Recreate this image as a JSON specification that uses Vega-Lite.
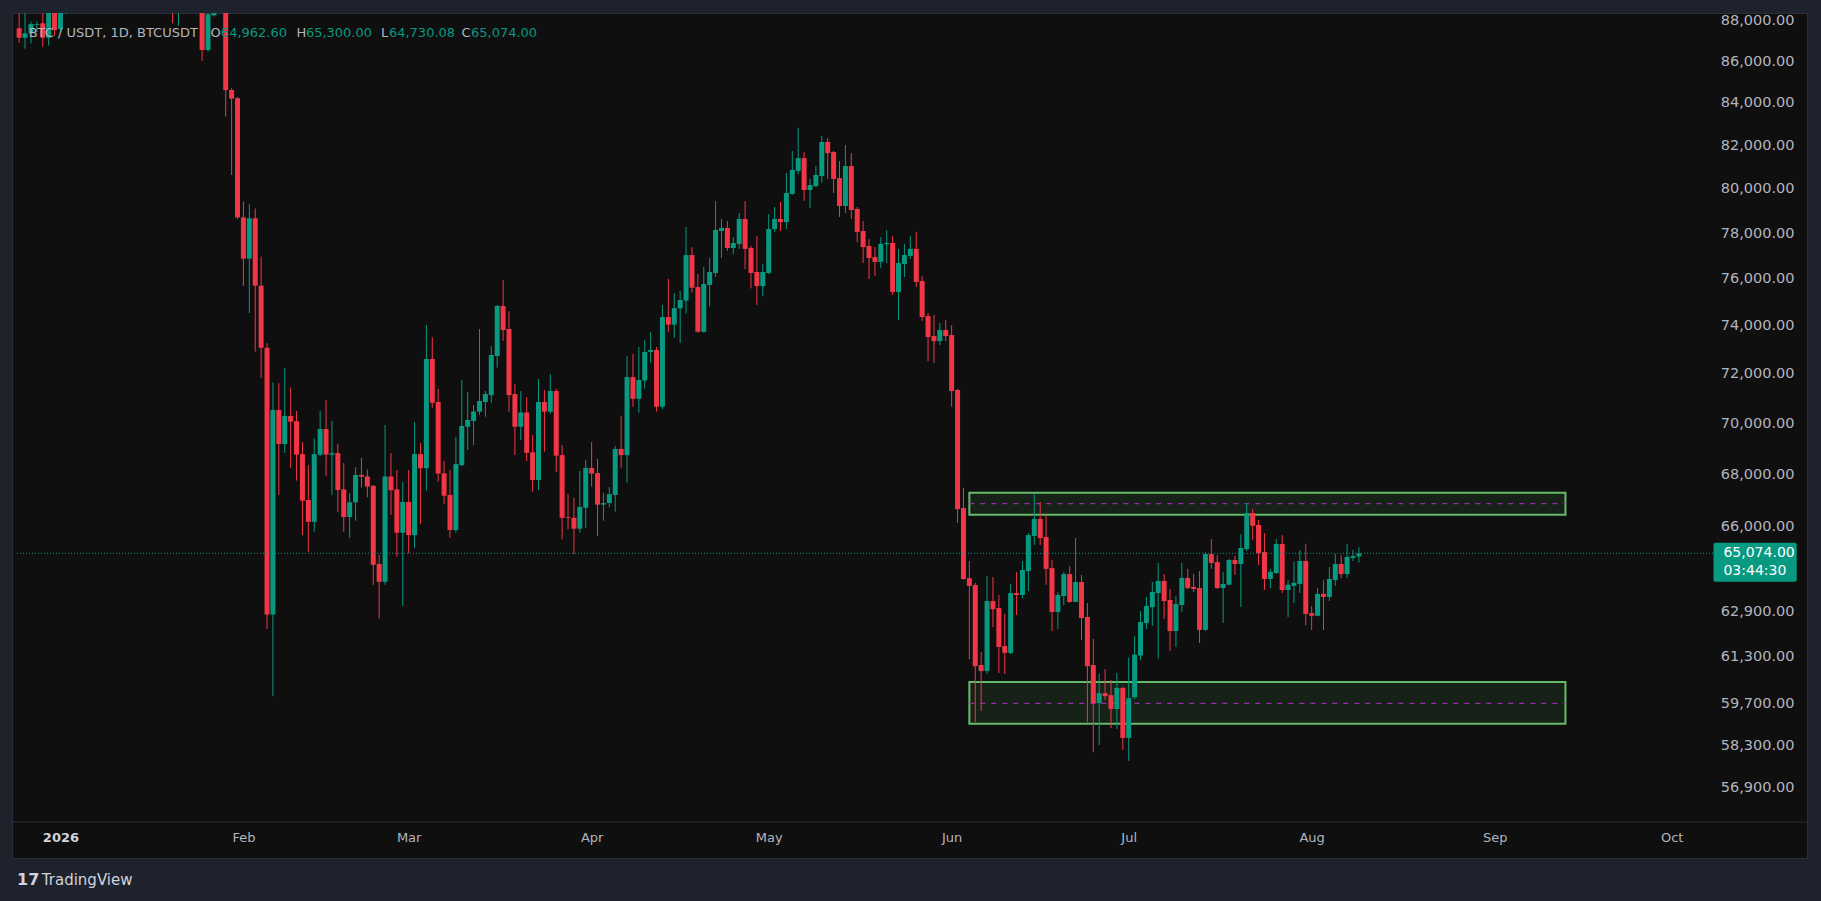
{
"$schema": "https://vega.github.io/schema/vega-lite/v6.json",
"width": 1795, "height": 845,
"autosize": {"type": "none"},
"padding": {"left": 12, "top": 13, "right": 14, "bottom": 43},
"background": "#1e222d",
"config": {"view": {"fill": "#0f0f0f", "stroke": "#2a2e39"}, "font": "DejaVu Sans", "axis": {"title": null, "grid": false, "ticks": false, "domain": false, "labelFont": "DejaVu Sans", "labelFontSize": 13, "labelColor": "#b2b5be"}},
"datasets": {
"candles": [
{"date":"2025-12-25","o":87710,"h":89000,"l":86990,"c":87240},
{"date":"2025-12-26","o":87240,"h":88700,"l":86700,"c":87460},
{"date":"2025-12-27","o":87460,"h":88040,"l":86960,"c":87920},
{"date":"2025-12-28","o":87880,"h":88040,"l":87500,"c":87920},
{"date":"2025-12-29","o":87960,"h":88700,"l":86800,"c":87240},
{"date":"2025-12-30","o":87240,"h":89200,"l":86850,"c":88800},
{"date":"2025-12-31","o":88800,"h":89200,"l":87330,"c":87620},
{"date":"2026-01-01","o":87670,"h":89300,"l":87480,"c":88900},
{"date":"2026-01-02","o":89500,"h":90200,"l":88420,"c":89800},
{"date":"2026-01-20","o":89500,"h":90500,"l":87960,"c":89000},
{"date":"2026-01-21","o":88900,"h":90200,"l":87830,"c":89600},
{"date":"2026-01-25","o":89500,"h":90000,"l":86100,"c":86633},
{"date":"2026-01-26","o":86633,"h":89000,"l":86550,"c":88410},
{"date":"2026-01-27","o":88360,"h":89200,"l":88300,"c":88700},
{"date":"2026-01-29","o":89200,"h":89500,"l":83410,"c":84680},
{"date":"2026-01-30","o":84685,"h":84770,"l":80690,"c":84270},
{"date":"2026-01-31","o":84290,"h":84350,"l":78700,"c":78770},
{"date":"2026-02-01","o":78770,"h":79480,"l":75760,"c":76940},
{"date":"2026-02-02","o":76940,"h":79370,"l":74600,"c":78730},
{"date":"2026-02-03","o":78730,"h":79170,"l":72980,"c":75770},
{"date":"2026-02-04","o":75770,"h":77030,"l":71900,"c":73140},
{"date":"2026-02-05","o":73140,"h":73330,"l":62340,"c":62850},
{"date":"2026-02-06","o":62850,"h":71720,"l":60000,"c":70598},
{"date":"2026-02-07","o":70600,"h":71680,"l":67270,"c":69246},
{"date":"2026-02-08","o":69246,"h":72300,"l":68900,"c":70360},
{"date":"2026-02-09","o":70360,"h":71510,"l":68320,"c":70130},
{"date":"2026-02-10","o":70150,"h":70560,"l":67820,"c":68830},
{"date":"2026-02-11","o":68850,"h":69320,"l":65750,"c":67050},
{"date":"2026-02-12","o":67076,"h":68420,"l":65130,"c":66250},
{"date":"2026-02-13","o":66250,"h":69470,"l":65880,"c":68850},
{"date":"2026-02-14","o":68830,"h":70560,"l":68760,"c":69840},
{"date":"2026-02-15","o":69840,"h":71000,"l":68010,"c":68830},
{"date":"2026-02-16","o":68830,"h":70160,"l":67270,"c":68890},
{"date":"2026-02-17","o":68890,"h":69250,"l":66630,"c":67460},
{"date":"2026-02-18","o":67480,"h":68500,"l":65880,"c":66430},
{"date":"2026-02-19","o":66430,"h":67330,"l":65650,"c":66990},
{"date":"2026-02-20","o":66990,"h":68340,"l":66290,"c":68040},
{"date":"2026-02-21","o":68040,"h":68700,"l":67550,"c":67970},
{"date":"2026-02-22","o":67980,"h":68250,"l":67180,"c":67590},
{"date":"2026-02-23","o":67620,"h":67640,"l":63920,"c":64650},
{"date":"2026-02-24","o":64680,"h":65010,"l":62700,"c":64030},
{"date":"2026-02-25","o":64030,"h":70000,"l":63920,"c":67980},
{"date":"2026-02-26","o":67980,"h":68890,"l":66510,"c":67450},
{"date":"2026-02-27","o":67480,"h":68230,"l":64950,"c":65840},
{"date":"2026-02-28","o":65840,"h":67770,"l":63150,"c":67000},
{"date":"2026-03-01","o":67000,"h":68230,"l":65074,"c":65750},
{"date":"2026-03-02","o":65750,"h":70120,"l":65270,"c":68850},
{"date":"2026-03-03","o":68850,"h":69290,"l":66170,"c":68300},
{"date":"2026-03-04","o":68300,"h":74090,"l":67430,"c":72675},
{"date":"2026-03-05","o":72675,"h":73580,"l":70690,"c":70890},
{"date":"2026-03-06","o":70920,"h":71450,"l":67780,"c":68090},
{"date":"2026-03-07","o":68100,"h":68580,"l":66935,"c":67240},
{"date":"2026-03-08","o":67270,"h":68230,"l":65650,"c":65942},
{"date":"2026-03-09","o":65942,"h":69520,"l":65840,"c":68460},
{"date":"2026-03-10","o":68420,"h":71810,"l":68380,"c":69960},
{"date":"2026-03-11","o":69930,"h":71320,"l":69010,"c":70198},
{"date":"2026-03-12","o":70160,"h":70800,"l":69200,"c":70540},
{"date":"2026-03-13","o":70530,"h":73925,"l":70400,"c":70960},
{"date":"2026-03-14","o":70920,"h":71360,"l":70330,"c":71240},
{"date":"2026-03-15","o":71200,"h":73210,"l":70890,"c":72840},
{"date":"2026-03-16","o":72800,"h":74940,"l":72320,"c":74900},
{"date":"2026-03-17","o":74900,"h":76014,"l":73430,"c":73883},
{"date":"2026-03-18","o":73925,"h":74680,"l":70530,"c":71200},
{"date":"2026-03-19","o":71240,"h":71650,"l":68810,"c":69930},
{"date":"2026-03-20","o":69930,"h":71360,"l":69404,"c":70500},
{"date":"2026-03-21","o":70500,"h":71120,"l":68580,"c":68900},
{"date":"2026-03-22","o":68920,"h":69600,"l":67390,"c":67843},
{"date":"2026-03-23","o":67843,"h":71850,"l":67460,"c":70920},
{"date":"2026-03-24","o":70920,"h":71405,"l":68940,"c":70530},
{"date":"2026-03-25","o":70530,"h":72050,"l":70440,"c":71365},
{"date":"2026-03-26","o":71365,"h":71450,"l":68160,"c":68790},
{"date":"2026-03-27","o":68810,"h":69210,"l":65590,"c":66400},
{"date":"2026-03-28","o":66430,"h":67300,"l":65970,"c":66400},
{"date":"2026-03-29","o":66400,"h":67160,"l":65040,"c":65990},
{"date":"2026-03-30","o":65990,"h":68200,"l":65840,"c":66810},
{"date":"2026-03-31","o":66780,"h":68620,"l":66030,"c":68310},
{"date":"2026-04-01","o":68310,"h":69320,"l":67590,"c":68090},
{"date":"2026-04-02","o":68110,"h":68660,"l":65730,"c":66900},
{"date":"2026-04-03","o":66900,"h":67350,"l":66290,"c":66960},
{"date":"2026-04-04","o":66960,"h":67570,"l":66800,"c":67300},
{"date":"2026-04-05","o":67270,"h":69170,"l":66630,"c":69050},
{"date":"2026-04-06","o":69050,"h":70360,"l":68320,"c":68810},
{"date":"2026-04-07","o":68810,"h":72800,"l":67740,"c":71930},
{"date":"2026-04-08","o":71930,"h":72880,"l":70730,"c":71050},
{"date":"2026-04-09","o":71050,"h":73170,"l":70490,"c":71813},
{"date":"2026-04-10","o":71790,"h":73464,"l":71460,"c":72965},
{"date":"2026-04-11","o":72965,"h":73800,"l":72520,"c":73050},
{"date":"2026-04-12","o":73050,"h":73170,"l":70530,"c":70730},
{"date":"2026-04-13","o":70730,"h":74940,"l":70630,"c":74430},
{"date":"2026-04-14","o":74430,"h":76060,"l":73810,"c":74110},
{"date":"2026-04-15","o":74110,"h":75450,"l":73560,"c":74810},
{"date":"2026-04-16","o":74800,"h":75540,"l":73350,"c":75154},
{"date":"2026-04-17","o":75130,"h":78340,"l":74570,"c":77100},
{"date":"2026-04-18","o":77100,"h":77450,"l":75470,"c":75680},
{"date":"2026-04-19","o":75710,"h":76270,"l":73770,"c":73810},
{"date":"2026-04-20","o":73810,"h":76580,"l":73770,"c":75840},
{"date":"2026-04-21","o":75800,"h":76970,"l":74870,"c":76360},
{"date":"2026-04-22","o":76320,"h":79500,"l":76150,"c":78206},
{"date":"2026-04-23","o":78160,"h":78700,"l":76970,"c":78300},
{"date":"2026-04-24","o":78300,"h":78610,"l":77280,"c":77410},
{"date":"2026-04-25","o":77410,"h":77900,"l":77140,"c":77630},
{"date":"2026-04-26","o":77590,"h":78970,"l":77370,"c":78700},
{"date":"2026-04-27","o":78700,"h":79500,"l":76490,"c":77370},
{"date":"2026-04-28","o":77410,"h":77500,"l":75650,"c":76320},
{"date":"2026-04-29","o":76360,"h":77940,"l":74940,"c":75750},
{"date":"2026-04-30","o":75750,"h":76710,"l":75320,"c":76360},
{"date":"2026-05-01","o":76320,"h":78920,"l":76270,"c":78250},
{"date":"2026-05-02","o":78250,"h":79240,"l":78120,"c":78700},
{"date":"2026-05-03","o":78700,"h":79460,"l":78160,"c":78560},
{"date":"2026-05-04","o":78560,"h":80780,"l":78250,"c":79870},
{"date":"2026-05-05","o":79830,"h":81800,"l":79780,"c":80920},
{"date":"2026-05-06","o":80880,"h":82880,"l":80730,"c":81470},
{"date":"2026-05-07","o":81470,"h":81750,"l":79510,"c":80005},
{"date":"2026-05-08","o":80005,"h":80510,"l":79190,"c":80230},
{"date":"2026-05-09","o":80180,"h":81100,"l":80140,"c":80690},
{"date":"2026-05-10","o":80640,"h":82500,"l":80330,"c":82220},
{"date":"2026-05-11","o":82220,"h":82410,"l":80510,"c":81700},
{"date":"2026-05-12","o":81750,"h":81800,"l":79870,"c":80510},
{"date":"2026-05-13","o":80550,"h":81330,"l":78790,"c":79280},
{"date":"2026-05-14","o":79280,"h":82080,"l":78970,"c":81100},
{"date":"2026-05-15","o":81100,"h":81700,"l":78700,"c":79100},
{"date":"2026-05-16","o":79150,"h":79240,"l":77670,"c":78120},
{"date":"2026-05-17","o":78160,"h":78610,"l":76750,"c":77450},
{"date":"2026-05-18","o":77500,"h":77800,"l":76060,"c":76970},
{"date":"2026-05-19","o":77010,"h":77450,"l":76190,"c":76800},
{"date":"2026-05-20","o":76800,"h":77900,"l":76530,"c":77590},
{"date":"2026-05-21","o":77580,"h":78206,"l":76750,"c":77630},
{"date":"2026-05-22","o":77630,"h":77940,"l":75370,"c":75500},
{"date":"2026-05-23","o":75500,"h":77370,"l":74305,"c":76750},
{"date":"2026-05-24","o":76710,"h":77590,"l":76150,"c":77100},
{"date":"2026-05-25","o":77060,"h":77940,"l":76930,"c":77370},
{"date":"2026-05-26","o":77370,"h":78120,"l":75710,"c":75930},
{"date":"2026-05-27","o":75970,"h":76190,"l":74260,"c":74430},
{"date":"2026-05-28","o":74470,"h":74600,"l":72590,"c":73590},
{"date":"2026-05-29","o":73630,"h":74520,"l":72510,"c":73420},
{"date":"2026-05-30","o":73420,"h":74180,"l":73250,"c":73883},
{"date":"2026-05-31","o":73883,"h":74305,"l":73420,"c":73630},
{"date":"2026-06-01","o":73670,"h":74090,"l":70730,"c":71365},
{"date":"2026-06-02","o":71405,"h":71450,"l":66210,"c":66730},
{"date":"2026-06-03","o":66770,"h":67540,"l":64093,"c":64130},
{"date":"2026-06-04","o":64160,"h":64790,"l":61270,"c":63880},
{"date":"2026-06-05","o":63910,"h":63990,"l":59120,"c":61030},
{"date":"2026-06-06","o":61070,"h":61520,"l":59490,"c":60860},
{"date":"2026-06-07","o":60860,"h":64240,"l":60760,"c":63330},
{"date":"2026-06-08","o":63330,"h":64200,"l":62400,"c":63040},
{"date":"2026-06-09","o":63080,"h":63550,"l":60790,"c":61700},
{"date":"2026-06-10","o":61730,"h":62870,"l":60760,"c":61490},
{"date":"2026-06-11","o":61490,"h":63950,"l":61450,"c":63620},
{"date":"2026-06-12","o":63620,"h":64390,"l":62830,"c":63550},
{"date":"2026-06-13","o":63550,"h":64790,"l":63440,"c":64460},
{"date":"2026-06-14","o":64420,"h":65830,"l":63690,"c":65750},
{"date":"2026-06-15","o":65720,"h":67300,"l":65380,"c":66360},
{"date":"2026-06-16","o":66360,"h":67000,"l":65380,"c":65640},
{"date":"2026-06-17","o":65680,"h":66510,"l":63920,"c":64500},
{"date":"2026-06-18","o":64530,"h":64826,"l":62260,"c":62940},
{"date":"2026-06-19","o":62940,"h":63660,"l":62330,"c":63550},
{"date":"2026-06-20","o":63510,"h":64390,"l":63190,"c":64310},
{"date":"2026-06-21","o":64310,"h":64600,"l":63260,"c":63300},
{"date":"2026-06-22","o":63300,"h":65640,"l":63290,"c":64020},
{"date":"2026-06-23","o":64020,"h":64280,"l":61944,"c":62720},
{"date":"2026-06-24","o":62760,"h":63260,"l":59120,"c":61030},
{"date":"2026-06-25","o":61070,"h":61980,"l":58120,"c":59760},
{"date":"2026-06-26","o":59760,"h":60760,"l":58350,"c":60100},
{"date":"2026-06-27","o":60100,"h":60930,"l":59866,"c":60000},
{"date":"2026-06-28","o":60030,"h":60551,"l":58920,"c":59560},
{"date":"2026-06-29","o":59560,"h":60800,"l":58890,"c":60280},
{"date":"2026-06-30","o":60280,"h":60300,"l":58190,"c":58590},
{"date":"2026-07-01","o":58590,"h":61330,"l":57830,"c":59930},
{"date":"2026-07-02","o":59960,"h":62080,"l":59900,"c":61430},
{"date":"2026-07-03","o":61400,"h":62970,"l":61240,"c":62580},
{"date":"2026-07-04","o":62540,"h":63480,"l":62330,"c":63150},
{"date":"2026-07-05","o":63110,"h":64020,"l":62440,"c":63660},
{"date":"2026-07-06","o":63620,"h":64720,"l":61290,"c":64060},
{"date":"2026-07-07","o":64060,"h":64310,"l":62690,"c":63330},
{"date":"2026-07-08","o":63370,"h":63770,"l":61560,"c":62260},
{"date":"2026-07-09","o":62260,"h":63510,"l":61700,"c":63220},
{"date":"2026-07-10","o":63190,"h":64720,"l":62940,"c":64170},
{"date":"2026-07-11","o":64170,"h":64500,"l":63760,"c":63800},
{"date":"2026-07-12","o":63840,"h":64310,"l":63660,"c":63770},
{"date":"2026-07-13","o":63800,"h":64420,"l":61840,"c":62300},
{"date":"2026-07-14","o":62300,"h":65120,"l":62260,"c":65050},
{"date":"2026-07-15","o":65050,"h":65600,"l":64500,"c":64720},
{"date":"2026-07-16","o":64750,"h":65010,"l":63770,"c":63800},
{"date":"2026-07-17","o":63800,"h":64390,"l":62550,"c":63950},
{"date":"2026-07-18","o":63920,"h":64860,"l":63900,"c":64826},
{"date":"2026-07-19","o":64826,"h":64970,"l":64280,"c":64680},
{"date":"2026-07-20","o":64680,"h":65790,"l":63120,"c":65270},
{"date":"2026-07-21","o":65230,"h":66960,"l":65160,"c":66580},
{"date":"2026-07-22","o":66580,"h":66730,"l":65570,"c":66100},
{"date":"2026-07-23","o":66130,"h":66318,"l":64640,"c":65080},
{"date":"2026-07-24","o":65120,"h":65830,"l":63730,"c":64130},
{"date":"2026-07-25","o":64130,"h":64500,"l":63800,"c":64390},
{"date":"2026-07-26","o":64350,"h":65600,"l":64310,"c":65420},
{"date":"2026-07-27","o":65420,"h":65750,"l":63620,"c":63730},
{"date":"2026-07-28","o":63730,"h":64090,"l":62760,"c":63920},
{"date":"2026-07-29","o":63880,"h":64760,"l":63260,"c":63990},
{"date":"2026-07-30","o":63950,"h":65196,"l":63620,"c":64790},
{"date":"2026-07-31","o":64790,"h":65420,"l":62470,"c":62870},
{"date":"2026-08-01","o":62900,"h":63150,"l":62300,"c":62800},
{"date":"2026-08-02","o":62800,"h":63800,"l":62780,"c":63590},
{"date":"2026-08-03","o":63590,"h":64090,"l":62300,"c":63480},
{"date":"2026-08-04","o":63480,"h":64570,"l":63330,"c":64130},
{"date":"2026-08-05","o":64090,"h":65050,"l":63880,"c":64680},
{"date":"2026-08-06","o":64680,"h":65010,"l":64170,"c":64310},
{"date":"2026-08-07","o":64310,"h":65420,"l":64170,"c":64940},
{"date":"2026-08-08","o":64900,"h":65196,"l":64790,"c":64970},
{"date":"2026-08-09","o":64962.6,"h":65300,"l":64730.08,"c":65074}
],
"zones": [
{"start":"2026-06-04","end":"2026-09-13","top":67355,"bottom":66518,"mid":66935},
{"start":"2026-06-04","end":"2026-09-13","top":60482,"bottom":59065,"mid":59754}
]
},
"layer": [
{"data": {"name": "zones"},
 "mark": {"type": "rect", "fill": "#4caf50", "fillOpacity": 0.12, "stroke": "#66bb6a", "strokeWidth": 2},
 "encoding": {
  "x": {"field": "start", "type": "temporal", "scale": {"type": "utc", "domain": [1766589428000, 1792720515000]},
   "axis": {"title": null, "orient": "bottom", "offset": -27, "labelPadding": 0, "labelFontSize": 13, "labelFont": "DejaVu Sans",
    "values": [{"year":2026,"month":1,"date":1,"utc":true},{"year":2026,"month":2,"date":1,"utc":true},{"year":2026,"month":3,"date":1,"utc":true},{"year":2026,"month":4,"date":1,"utc":true},{"year":2026,"month":5,"date":1,"utc":true},{"year":2026,"month":6,"date":1,"utc":true},{"year":2026,"month":7,"date":1,"utc":true},{"year":2026,"month":8,"date":1,"utc":true},{"year":2026,"month":9,"date":1,"utc":true},{"year":2026,"month":10,"date":1,"utc":true}],
    "labelExpr": "utcmonth(datum.value) == 0 ? utcFormat(datum.value, '%Y') : utcFormat(datum.value, '%b')",
    "labelColor": {"condition": {"test": "utcmonth(datum.value) == 0", "value": "#d1d4dc"}, "value": "#b2b5be"},
    "labelFontWeight": {"condition": {"test": "utcmonth(datum.value) == 0", "value": "bold"}, "value": "normal"},
    "labelOverlap": false, "labelFlush": false}},
  "x2": {"field": "end"},
  "y": {"field": "top", "type": "quantitative", "scale": {"type": "log", "domain": [54723, 88476], "nice": false},
   "axis": {"title": null, "orient": "right", "offset": -13, "labelPadding": 0, "labelAlign": "right", "labelOffset": -1.5, "labelFontSize": 14.5, "labelFont": "DejaVu Sans", "labelColor": "#b2b5be", "format": ",.2f",
    "values": [88000, 86000, 84000, 82000, 80000, 78000, 76000, 74000, 72000, 70000, 68000, 66000, 62900, 61300, 59700, 58300, 56900], "labelOverlap": false, "labelFlush": false}},
  "y2": {"field": "bottom"}
 }},
{"data": {"name": "zones"},
 "mark": {"type": "rule", "stroke": "#9c27b0", "strokeWidth": 1.2, "strokeDash": [5, 6]},
 "encoding": {
  "x": {"field": "start", "type": "temporal", "axis": {"title": null}},
  "x2": {"field": "end"},
  "y": {"field": "mid", "type": "quantitative", "axis": {"title": null}}
 }},
{"data": {"name": "candles"},
 "mark": {"type": "rule", "strokeWidth": 1, "clip": true},
 "encoding": {
  "x": {"field": "date", "type": "temporal", "axis": {"title": null}},
  "y": {"field": "l", "type": "quantitative", "axis": {"title": null}},
  "y2": {"field": "h"},
  "color": {"condition": {"test": "datum.c >= datum.o", "value": "#089981"}, "value": "#f23645"}
 }},
{"data": {"name": "candles"},
 "mark": {"type": "bar", "size": 5, "clip": true},
 "encoding": {
  "x": {"field": "date", "type": "temporal", "axis": {"title": null}},
  "y": {"field": "o", "type": "quantitative", "axis": {"title": null}},
  "y2": {"field": "c"},
  "color": {"condition": {"test": "datum.c >= datum.o", "value": "#089981"}, "value": "#f23645"}
 }},
{"data": {"values": [{}]},
 "mark": {"type": "rule", "stroke": "#2a2e39", "strokeWidth": 1},
 "encoding": {"y": {"datum": 55854, "type": "quantitative", "axis": {"title": null}}}},
{"data": {"values": [{}]},
 "mark": {"type": "rule", "stroke": "#089981", "strokeWidth": 1, "strokeDash": [1, 2]},
 "encoding": {
  "x": {"datum": 1766589428000, "type": "temporal", "axis": {"title": null}},
  "x2": {"datum": 1791424879000},
  "y": {"datum": 65074, "type": "quantitative", "axis": {"title": null}}}},
{"data": {"values": [{}]},
 "mark": {"type": "rect", "fill": "#089981", "cornerRadius": 2},
 "encoding": {
  "x": {"datum": 1791424879000, "type": "temporal", "axis": {"title": null}},
  "x2": {"datum": 1792643359000},
  "y": {"datum": 65467, "type": "quantitative", "axis": {"title": null}},
  "y2": {"datum": 64032}}},
{"data": {"values": [{}]},
 "mark": {"type": "text", "text": "65,074.00", "align": "left", "baseline": "middle", "fontSize": 14, "font": "DejaVu Sans", "color": "#ffffff"},
 "encoding": {"x": {"datum": 1791570456000, "type": "temporal", "axis": {"title": null}}, "y": {"datum": 65074, "type": "quantitative", "axis": {"title": null}}}},
{"data": {"values": [{}]},
 "mark": {"type": "text", "text": "03:44:30", "align": "left", "baseline": "middle", "fontSize": 14, "font": "DejaVu Sans", "color": "#ffffff"},
 "encoding": {"x": {"datum": 1791570456000, "type": "temporal", "axis": {"title": null}}, "y": {"datum": 64434, "type": "quantitative", "axis": {"title": null}}}},
{"data": {"values": [{}]},
 "mark": {"type": "text", "text": "BTC / USDT, 1D, BTCUSDT", "align": "left", "baseline": "middle", "fontSize": 13, "font": "DejaVu Sans", "color": "#b2b5be"},
 "encoding": {"x": {"datum": 1766759753000, "type": "temporal", "axis": {"title": null}}, "y": {"datum": 87476, "type": "quantitative", "axis": {"title": null}}}},
{"data": {"values": [{}]},
 "mark": {"type": "text", "text": "O", "align": "left", "baseline": "middle", "fontSize": 13, "font": "DejaVu Sans", "color": "#b2b5be"},
 "encoding": {"x": {"datum": 1769423814000, "type": "temporal", "axis": {"title": null}}, "y": {"datum": 87476, "type": "quantitative", "axis": {"title": null}}}},
{"data": {"values": [{}]},
 "mark": {"type": "text", "text": "64,962.60", "align": "left", "baseline": "middle", "fontSize": 13, "font": "DejaVu Sans", "color": "#089981"},
 "encoding": {"x": {"datum": 1769573758000, "type": "temporal", "axis": {"title": null}}, "y": {"datum": 87476, "type": "quantitative", "axis": {"title": null}}}},
{"data": {"values": [{}]},
 "mark": {"type": "text", "text": "H", "align": "left", "baseline": "middle", "fontSize": 13, "font": "DejaVu Sans", "color": "#b2b5be"},
 "encoding": {"x": {"datum": 1770680144000, "type": "temporal", "axis": {"title": null}}, "y": {"datum": 87476, "type": "quantitative", "axis": {"title": null}}}},
{"data": {"values": [{}]},
 "mark": {"type": "text", "text": "65,300.00", "align": "left", "baseline": "middle", "fontSize": 13, "font": "DejaVu Sans", "color": "#089981"},
 "encoding": {"x": {"datum": 1770818442000, "type": "temporal", "axis": {"title": null}}, "y": {"datum": 87476, "type": "quantitative", "axis": {"title": null}}}},
{"data": {"values": [{}]},
 "mark": {"type": "text", "text": "L", "align": "left", "baseline": "middle", "fontSize": 13, "font": "DejaVu Sans", "color": "#b2b5be"},
 "encoding": {"x": {"datum": 1771917549000, "type": "temporal", "axis": {"title": null}}, "y": {"datum": 87476, "type": "quantitative", "axis": {"title": null}}}},
{"data": {"values": [{}]},
 "mark": {"type": "text", "text": "64,730.08", "align": "left", "baseline": "middle", "fontSize": 13, "font": "DejaVu Sans", "color": "#089981"},
 "encoding": {"x": {"datum": 1772034011000, "type": "temporal", "axis": {"title": null}}, "y": {"datum": 87476, "type": "quantitative", "axis": {"title": null}}}},
{"data": {"values": [{}]},
 "mark": {"type": "text", "text": "C", "align": "left", "baseline": "middle", "fontSize": 13, "font": "DejaVu Sans", "color": "#b2b5be"},
 "encoding": {"x": {"datum": 1773096724000, "type": "temporal", "axis": {"title": null}}, "y": {"datum": 87476, "type": "quantitative", "axis": {"title": null}}}},
{"data": {"values": [{}]},
 "mark": {"type": "text", "text": "65,074.00", "align": "left", "baseline": "middle", "fontSize": 13, "font": "DejaVu Sans", "color": "#089981"},
 "encoding": {"x": {"datum": 1773235022000, "type": "temporal", "axis": {"title": null}}, "y": {"datum": 87476, "type": "quantitative", "axis": {"title": null}}}},
{"data": {"values": [{}]},
 "mark": {"type": "text", "text": "17", "align": "left", "baseline": "middle", "fontSize": 16, "fontWeight": "bold", "font": "DejaVu Sans", "color": "#d1d4dc"},
 "encoding": {"x": {"datum": 1766589428000, "type": "temporal", "axis": {"title": null}}, "y": {"datum": 54043, "type": "quantitative", "axis": {"title": null}}}},
{"data": {"values": [{}]},
 "mark": {"type": "text", "text": "TradingView", "align": "left", "baseline": "middle", "fontSize": 15, "font": "DejaVu Sans", "color": "#d1d4dc"},
 "encoding": {"x": {"datum": 1766953371000, "type": "temporal", "axis": {"title": null}}, "y": {"datum": 54043, "type": "quantitative", "axis": {"title": null}}}}
]
}
